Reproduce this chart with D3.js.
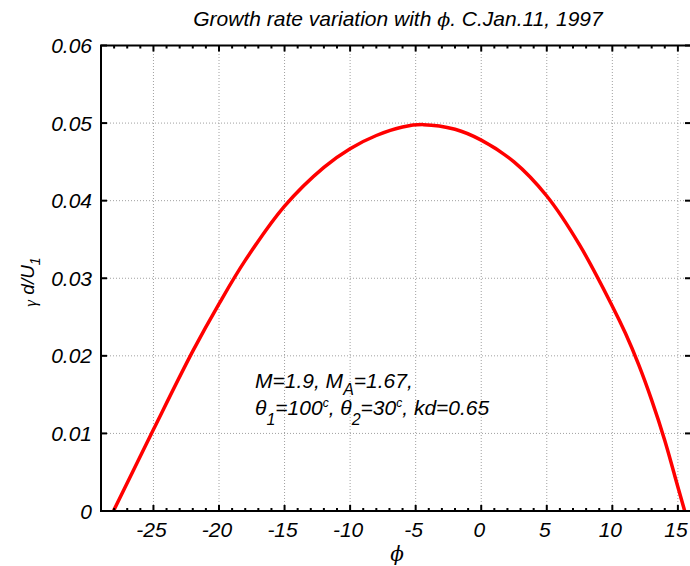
<!DOCTYPE html>
<html>
<head>
<meta charset="utf-8">
<script src="https://cdn.jsdelivr.net/npm/d3@7/dist/d3.min.js"></script>
<style>
  body { margin: 0; background: #fff; }
  svg { display: block; font-family: 'Liberation Sans', Arial, sans-serif; }
  .tick-label { font-style: italic; font-size: 21px; fill: #000; }
</style>
</head>
<body>
<div id="chart"></div>
<script>
// data
const phi = [-28.05, -25, -22, -20, -18, -15, -12, -10, -8, -6, -4.4, -2, 0, 2.5, 5, 7.5, 10, 11, 12, 13, 14, 15, 15.52];
const gamma = [0, 0.0105, 0.0206, 0.0267, 0.0323, 0.0393, 0.0443, 0.0467, 0.0484, 0.0495, 0.0498, 0.0492, 0.0478, 0.0450, 0.0406, 0.0343, 0.0264, 0.0229, 0.0189, 0.0143, 0.0091, 0.0031, 0];
const xTicks = [-25, -20, -15, -10, -5, 0, 5, 10, 15];
const yTicks = [0, 0.01, 0.02, 0.03, 0.04, 0.05, 0.06];
const xDomain = [-29, 16];
const yDomain = [0, 0.06];

const width = 690,
    height = 566,
    margins = { top: 45.5, right: -1, bottom: 55, left: 101 };

const points = phi.map((p, i) => ({ phi: p, gamma: gamma[i] }));

const xScale = d3.scaleLinear()
  .domain(xDomain)
  .range([margins.left, width - margins.right]);

const yScale = d3.scaleLinear()
  .domain(yDomain)
  .range([height - margins.bottom, margins.top]);

const $svg = d3.select('#chart').append('svg')
  .attr('width', width)
  .attr('height', height);

const x0 = xScale.range()[0], x1 = xScale.range()[1];
const y0 = yScale.range()[0], y1 = yScale.range()[1];

// grid
const $grid = $svg.append('g')
  .attr('stroke', '#a0a0a0')
  .attr('stroke-width', 1)
  .attr('stroke-dasharray', '1,2');

$grid.selectAll('.gx')
  .data(xTicks)
  .enter()
  .append('line')
  .attr('x1', d => xScale(d)).attr('x2', d => xScale(d))
  .attr('y1', y0).attr('y2', y1);

$grid.selectAll('.gy')
  .data(yTicks.slice(1, -1))
  .enter()
  .append('line')
  .attr('y1', d => yScale(d)).attr('y2', d => yScale(d))
  .attr('x1', x0).attr('x2', x1);

// curve
const line = d3.line()
  .x(d => xScale(d.phi))
  .y(d => yScale(d.gamma))
  .curve(d3.curveCatmullRom.alpha(0.5));

$svg.append('path')
  .datum(points)
  .attr('d', line)
  .attr('fill', 'none')
  .attr('stroke', '#ff0000')
  .attr('stroke-width', 3.5);

// ticks (inward, both sides)
const minorX = d3.range(Math.ceil(xDomain[0]), xDomain[1] + 1).filter(d => d % 5 !== 0);
const $ticks = $svg.append('g').attr('stroke', '#000').attr('stroke-width', 2);

function addXTicks(vals, len) {
  $ticks.selectAll(null).data(vals).enter().append('line')
    .attr('x1', d => xScale(d)).attr('x2', d => xScale(d))
    .attr('y1', y0).attr('y2', y0 - len);
  $ticks.selectAll(null).data(vals).enter().append('line')
    .attr('x1', d => xScale(d)).attr('x2', d => xScale(d))
    .attr('y1', y1).attr('y2', y1 + len);
}
addXTicks(xTicks, 6);
addXTicks(minorX, 3);

$ticks.selectAll(null).data(yTicks).enter().append('line')
  .attr('y1', d => yScale(d)).attr('y2', d => yScale(d))
  .attr('x1', x0).attr('x2', x0 + 6);
$ticks.selectAll(null).data(yTicks).enter().append('line')
  .attr('y1', d => yScale(d)).attr('y2', d => yScale(d))
  .attr('x1', x1).attr('x2', x1 - 6);

// box
$svg.append('rect')
  .attr('x', x0).attr('y', y1)
  .attr('width', x1 - x0).attr('height', y0 - y1)
  .attr('fill', 'none')
  .attr('stroke', '#000')
  .attr('stroke-width', 2);

// tick labels
$svg.selectAll('.xl')
  .data(xTicks)
  .enter()
  .append('text')
  .classed('tick-label', true)
  .attr('x', d => xScale(d) - 2)
  .attr('y', 537)
  .attr('text-anchor', 'middle')
  .text(d => d);

$svg.selectAll('.yl')
  .data(yTicks)
  .enter()
  .append('text')
  .classed('tick-label', true)
  .attr('x', x0 - 9)
  .attr('y', d => yScale(d))
  .attr('dy', '0.36em')
  .attr('text-anchor', 'end')
  .text(d => d === 0 ? '0' : d3.format('.2f')(d));

// title
const $title = $svg.append('text')
  .attr('x', 398)
  .attr('y', 26)
  .attr('text-anchor', 'middle')
  .style('font-style', 'italic')
  .style('font-size', '21px');
$title.append('tspan').text('Growth rate variation with ');
$title.append('tspan').style('font-family', "'DejaVu Serif', serif").style('font-size', '19px').text('ϕ');
$title.append('tspan').text('. C.Jan.11, 1997');

// axis labels
$svg.append('text')
  .attr('x', 397)
  .attr('y', 561)
  .attr('text-anchor', 'middle')
  .style('font-family', "'DejaVu Serif', serif")
  .style('font-style', 'italic')
  .style('font-size', '20px')
  .text('ϕ');

const $yl = $svg.append('text')
  .attr('transform', 'translate(34, 282) rotate(-90)')
  .attr('text-anchor', 'middle')
  .style('font-style', 'italic')
  .style('font-size', '19px');
$yl.append('tspan').style('font-family', "'Liberation Serif', serif").style('font-size', '17px').attr('dy', 2).text('γ');
$yl.append('tspan').attr('dy', -2).text(' d/U');
$yl.append('tspan').attr('dy', 6).style('font-size', '14px').text('1');

// annotation
const $a1 = $svg.append('text')
  .attr('x', 255).attr('y', 388)
  .style('font-style', 'italic').style('font-size', '21px');
$a1.append('tspan').text('M=1.9, M');
$a1.append('tspan').attr('dy', 7).style('font-size', '16px').text('A');
$a1.append('tspan').attr('dy', -7).text('=1.67,');

const $a2 = $svg.append('text')
  .attr('x', 255).attr('y', 415)
  .style('font-style', 'italic').style('font-size', '21px');
$a2.append('tspan').text('θ');
$a2.append('tspan').attr('dy', 10).style('font-size', '16px').text('1');
$a2.append('tspan').attr('dy', -10).text('=100');
$a2.append('tspan').attr('dy', -8).style('font-size', '12px').text('c');
$a2.append('tspan').attr('dy', 8).text(', θ');
$a2.append('tspan').attr('dy', 10).style('font-size', '16px').text('2');
$a2.append('tspan').attr('dy', -10).text('=30');
$a2.append('tspan').attr('dy', -8).style('font-size', '12px').text('c');
$a2.append('tspan').attr('dy', 8).text(', kd=0.65');
</script>
</body>
</html>
